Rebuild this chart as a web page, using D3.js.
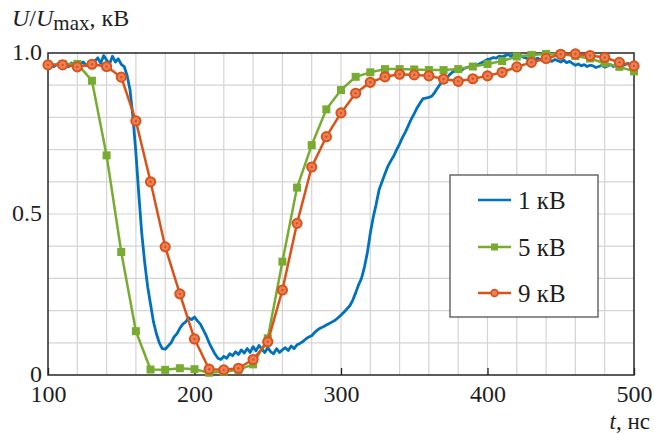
<!DOCTYPE html>
<html>
<head>
<meta charset="utf-8">
<script src="https://cdn.jsdelivr.net/npm/d3@7/dist/d3.min.js"></script>
<style>
  html, body { margin: 0; padding: 0; background: #fff; }
  svg { display: block; }
</style>
</head>
<body>
<svg id="chart" width="654" height="434"></svg>
<script>
// Sampled time (ns) for the marker series (5 kV and 9 kV)
const markerTimes = [100,110,120,130,140,150,160,170,180,190,200,210,220,230,240,250,260,270,280,290,300,
  310,320,330,340,350,360,370,380,390,400,410,420,430,440,450,460,470,480,490,500];

// U/Umax for 5 kV
const u5kV = [0.963,0.966,0.966,0.914,0.682,0.382,0.136,0.017,0.016,0.021,0.018,0.007,0.010,0.016,0.033,0.114,0.352,0.582,0.714,0.825,0.885,
  0.926,0.940,0.950,0.950,0.949,0.947,0.947,0.950,0.958,0.966,0.975,0.989,0.994,0.997,0.997,0.991,0.983,0.968,0.957,0.943];

// U/Umax for 9 kV
const u9kV = [0.963,0.963,0.957,0.965,0.958,0.925,0.789,0.600,0.398,0.252,0.112,0.018,0.016,0.021,0.048,0.103,0.264,0.471,0.646,0.740,0.814,
  0.875,0.909,0.926,0.934,0.932,0.929,0.919,0.912,0.920,0.929,0.940,0.957,0.971,0.983,0.996,0.997,0.992,0.986,0.971,0.960];

// 1 kV trace, recorded every 2 ns from 100 ns to 500 ns
const u1kVStart = 100, u1kVStep = 2;
const u1kV = [
  0.962,0.968,0.958,0.965,0.970,0.960,0.966,0.957,0.969,0.963,0.958,0.967,0.972,0.961,0.968,0.965,
  0.975,0.985,0.968,0.992,0.978,0.966,0.990,0.972,0.982,0.965,
  0.958,0.930,0.885,0.800,0.690,0.560,0.440,0.350,0.275,0.220,0.165,0.128,0.100,0.082,0.080,
  0.090,0.100,0.118,0.128,0.145,0.158,0.165,0.178,0.172,0.180,0.168,0.158,0.140,0.122,0.100,
  0.082,0.065,0.052,0.048,0.058,0.052,0.066,0.060,0.072,0.064,0.078,0.068,0.082,0.070,0.088,
  0.075,0.092,0.080,0.070,0.085,0.072,0.066,0.082,0.070,0.078,0.085,0.076,0.090,0.082,0.094,
  0.098,0.104,0.112,0.118,0.122,0.132,0.140,0.146,0.150,0.155,0.160,0.165,0.170,0.178,0.186,
  0.195,0.205,0.215,0.232,0.255,0.280,0.300,0.335,0.380,0.440,0.490,0.530,0.575,0.600,0.625,
  0.648,0.665,0.680,0.700,0.718,0.738,0.755,0.775,0.795,0.812,0.830,0.845,0.858,0.860,0.862,
  0.866,0.878,0.892,0.905,0.915,0.922,0.932,0.940,0.945,0.948,0.945,0.952,0.955,0.958,0.955,
  0.962,0.965,0.970,0.975,0.980,0.982,0.986,0.984,0.990,0.988,0.992,0.995,0.990,0.996,0.992,
  0.994,0.988,0.985,0.982,0.986,0.978,0.984,0.980,0.976,0.982,0.978,0.974,0.980,0.976,0.972,
  0.978,0.970,0.974,0.968,0.962,0.966,0.960,0.964,0.958,0.962,0.960,0.955,0.958,0.962,0.956,
  0.960,0.964,0.958,0.962,0.966,0.960,0.964,0.968,0.962,0.966
];

const xTicks = [100, 200, 300, 400, 500];
const yTicks = [0, 0.5, 1.0];
const yTickLabels = ["0", "0.5", "1.0"];
const legendLabels = ["1 кВ", "5 кВ", "9 кВ"];

const colors = { blue: "#0072BD", green: "#77AC30", orange: "#D95319" };
const serif = '"Liberation Serif"';
const ink = "#1e1e1e";

const svg = d3.select("#chart");
const x = d3.scaleLinear().domain([100, 500]).range([48, 634]);
const y = d3.scaleLinear().domain([0, 1]).range([375, 53]);

// grid
const grid = svg.append("g").attr("stroke", "#d4d4d4").attr("stroke-width", 1.2);
d3.range(120, 500, 20).forEach(t => {
  grid.append("line").attr("x1", x(t)).attr("x2", x(t)).attr("y1", y(0)).attr("y2", y(1));
});
d3.range(1, 10).forEach(i => {
  const v = i / 10;
  grid.append("line").attr("x1", x(100)).attr("x2", x(500)).attr("y1", y(v)).attr("y2", y(v));
});

// axes
const xAxis = d3.axisBottom(x).tickValues(xTicks).tickSizeInner(-7).tickSizeOuter(0).tickPadding(11);
const yAxis = d3.axisLeft(y).tickValues(yTicks).tickFormat((d, i) => yTickLabels[i]).tickSize(0).tickPadding(6);

const gx = svg.append("g").attr("transform", `translate(0,${y(0)})`).call(xAxis);
gx.attr("font-family", null).attr("font-size", null);
gx.select(".domain").remove();
gx.selectAll("line").attr("stroke", ink).attr("stroke-width", 1.3);
gx.selectAll("text").attr("dy", "0.68em").style("font-family", serif).style("font-size", "24px").attr("fill", ink);

const gy = svg.append("g").attr("transform", `translate(${x(100)},0)`).call(yAxis);
gy.attr("font-family", null).attr("font-size", null);
gy.select(".domain").remove();
gy.selectAll("text").attr("dy", "0.27em").style("font-family", serif).style("font-size", "24px").attr("fill", ink);

// frame
svg.append("rect").attr("x", x(100)).attr("y", y(1)).attr("width", x(500) - x(100)).attr("height", y(0) - y(1))
  .attr("fill", "none").attr("stroke", "#262626").attr("stroke-width", 1.5);

const line = d3.line().x(d => x(d[0])).y(d => y(d[1]));

// 1 kV
const blueData = u1kV.map((v, i) => [u1kVStart + i * u1kVStep, v]);
svg.append("path").datum(blueData).attr("d", line).attr("fill", "none")
  .attr("stroke", colors.blue).attr("stroke-width", 2.8).attr("stroke-linejoin", "round");

// 5 kV
const greenData = markerTimes.map((t, i) => [t, u5kV[i]]);
svg.append("path").datum(greenData).attr("d", line).attr("fill", "none")
  .attr("stroke", colors.green).attr("stroke-width", 2.5).attr("stroke-linejoin", "round");
svg.append("g").selectAll("rect").data(greenData).join("rect")
  .attr("x", d => x(d[0]) - 4).attr("y", d => y(d[1]) - 4).attr("width", 8).attr("height", 8)
  .attr("fill", colors.green);

// 9 kV
const orangeData = markerTimes.map((t, i) => [t, u9kV[i]]);
svg.append("path").datum(orangeData).attr("d", line).attr("fill", "none")
  .attr("stroke", colors.orange).attr("stroke-width", 2.5).attr("stroke-linejoin", "round");
const og = svg.append("g");
og.selectAll("circle.o").data(orangeData).join("circle").attr("class", "o")
  .attr("cx", d => x(d[0])).attr("cy", d => y(d[1])).attr("r", 4.6)
  .attr("fill", "#e9805a").attr("stroke", colors.orange).attr("stroke-width", 2);
og.selectAll("circle.c").data(orangeData).join("circle").attr("class", "c")
  .attr("cx", d => x(d[0])).attr("cy", d => y(d[1])).attr("r", 1.2).attr("fill", colors.orange);

// legend
const lg = svg.append("g");
lg.append("rect").attr("x", 450).attr("y", 175).attr("width", 148).attr("height", 142)
  .attr("fill", "#fff").attr("stroke", "#444").attr("stroke-width", 1.2);
const legendColors = [colors.blue, colors.green, colors.orange];
const legendY = [200, 247, 293];
legendLabels.forEach((lab, i) => {
  lg.append("line").attr("x1", 478).attr("x2", 511).attr("y1", legendY[i]).attr("y2", legendY[i])
    .attr("stroke", legendColors[i]).attr("stroke-width", 2.5);
  if (i === 1) {
    lg.append("rect").attr("x", 494.5 - 3.5).attr("y", legendY[i] - 3.5).attr("width", 7).attr("height", 7)
      .attr("fill", colors.green);
  }
  if (i === 2) {
    lg.append("circle").attr("cx", 494.5).attr("cy", legendY[i]).attr("r", 3.4)
      .attr("fill", "#e9805a").attr("stroke", colors.orange).attr("stroke-width", 1.6);
  }
  lg.append("text").attr("x", 518).attr("y", legendY[i] + 9).attr("fill", ink)
    .style("font-family", serif).style("font-size", "25px").text(lab);
});

// axis titles
const yt = svg.append("text").attr("x", 12).attr("y", 26).attr("fill", ink)
  .style("font-family", serif).style("font-size", "24px");
yt.append("tspan").style("font-style", "italic").text("U");
yt.append("tspan").text("/");
yt.append("tspan").style("font-style", "italic").text("U");
yt.append("tspan").style("font-size", "21px").attr("dy", 4).text("max");
yt.append("tspan").attr("dy", -4).text(", кВ");

const xt = svg.append("text").attr("x", 650).attr("y", 428.5).attr("fill", ink)
  .attr("text-anchor", "end").style("font-family", serif).style("font-size", "23px");
xt.append("tspan").style("font-style", "italic").text("t");
xt.append("tspan").text(", нс");
</script>
</body>
</html>
